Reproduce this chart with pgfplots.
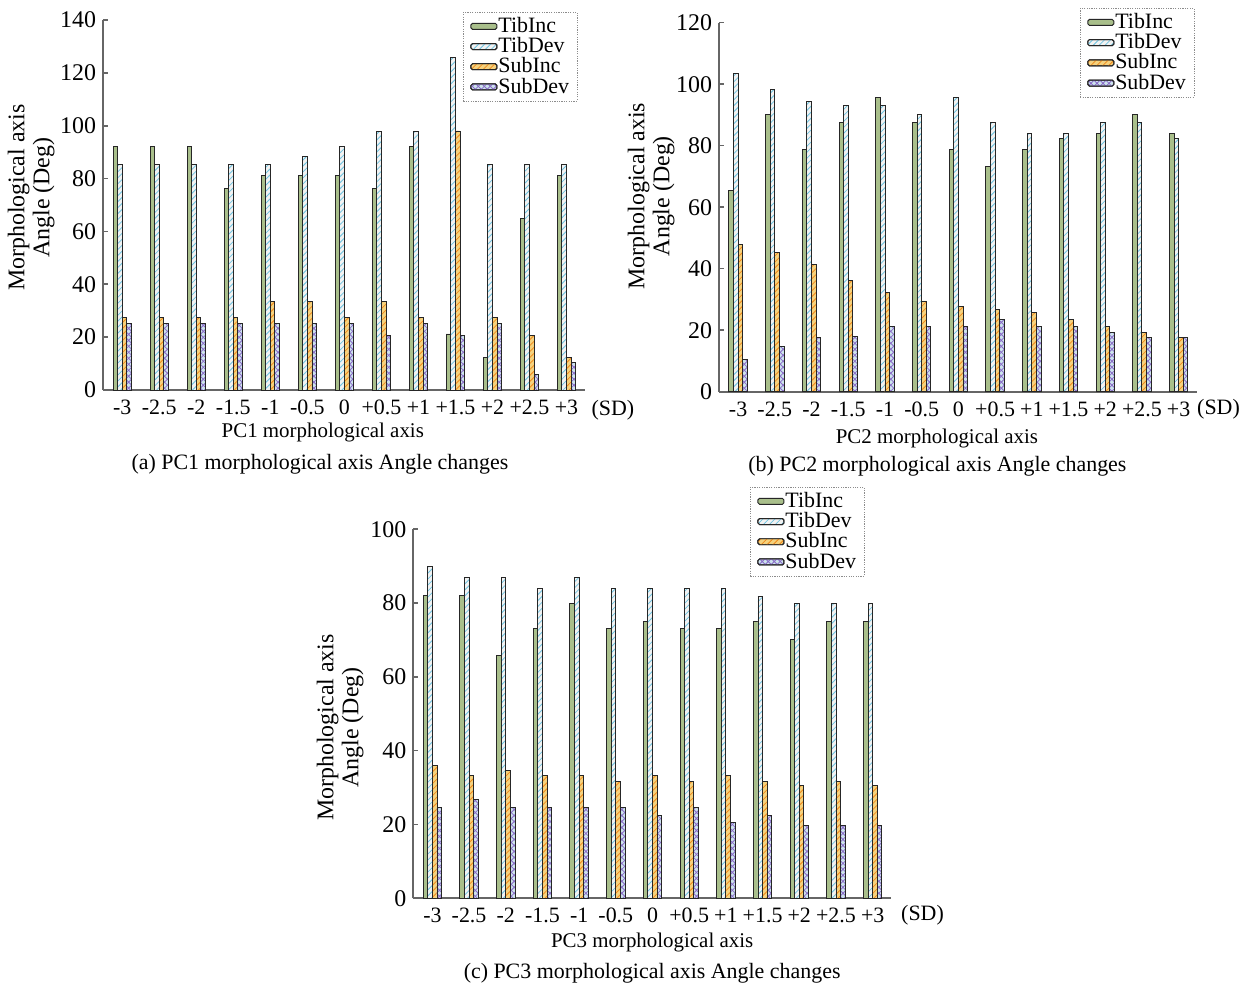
\documentclass[border=0pt]{standalone}
\usepackage{fontspec}
\setmainfont{Liberation Serif}
\usepackage{pgfplots}
\usepackage{pgfplotstable}
\pgfplotsset{compat=1.18}
\usetikzlibrary{patterns}

\definecolor{tibinc}{HTML}{A9BF8B}
\definecolor{tibdev}{HTML}{F2F2F2}
\definecolor{tibdevline}{HTML}{6FC3E0}
\definecolor{subinc}{HTML}{F5D27E}
\definecolor{subincline}{HTML}{F08A1C}
\definecolor{subdev}{HTML}{CDE3EC}
\definecolor{subdevline}{HTML}{8A6CC8}

% columns: cat TibInc TibDev SubInc SubDev
\pgfplotstableread{
cat TibInc TibDev SubInc SubDev
0  92.2  85.3  27.5 25.0
1  92.2  85.3  27.5 25.0
2  92.2  85.3  27.5 25.0
3  76.2  85.3  27.5 25.0
4  81.2  85.3  33.5 25.0
5  81.2  88.4  33.5 25.0
6  81.2  92.2  27.5 25.0
7  76.2  97.9  33.5 20.5
8  92.2  97.9  27.5 25.0
9  21.2 125.9  98.0 20.5
10 12.4  85.3  27.5 25.0
11 65.0  85.3  20.5  5.8
12 81.2  85.3  12.4 10.5
}\pcone

\pgfplotstableread{
cat TibInc TibDev SubInc SubDev
0  65.3 103.5 47.9 10.5
1  90.0  98.3 45.2 14.6
2  78.9  94.5 41.5 17.6
3  87.7  93.2 36.3 18.1
4  95.7  93.2 32.2 21.1
5  87.7  90.0 29.5 21.1
6  78.9  95.7 27.6 21.1
7  73.2  87.6 26.8 23.6
8  78.9  84.0 25.8 21.1
9  82.2  84.0 23.5 21.1
10 84.0  87.6 21.1 19.3
11 90.0  87.6 19.3 17.6
12 84.0  82.2 17.6 17.6
}\pctwo

\pgfplotstableread{
cat TibInc TibDev SubInc SubDev
0  82.0 90.0 36.0 24.7
1  82.0 87.0 33.2 26.9
2  65.9 87.0 34.6 24.7
3  73.2 84.0 33.2 24.7
4  79.9 87.0 33.2 24.7
5  73.2 84.0 31.6 24.7
6  75.0 84.0 33.2 22.4
7  73.2 84.0 31.6 24.7
8  73.2 84.0 33.2 20.6
9  75.0 81.9 31.6 22.4
10 70.2 79.9 30.7 19.7
11 75.0 79.9 31.6 19.7
12 75.0 79.9 30.7 19.7
}\pcthree

\pgfplotsset{
  panel/.style={
    scale only axis,
    clip=false,
    anchor=south west,
    ybar=0pt,
    bar width=2.3bp,
    axis lines*=left,
    axis line style={draw=black!60, line width=0.9pt},
    ymin=0,
    xmin=-0.52, xmax=12.5,
    xtick={0,...,12},
    xticklabels={-3,-2.5,-2,-1.5,-1,-0.5,0,+0.5,+1,+1.5,+2,+2.5,+3},
    x tick label style={font=\fontsize{11}{12}\selectfont, yshift=-1.5bp, inner xsep=0pt},
    y tick label style={font=\fontsize{12}{14}\selectfont},
    /pgf/number format/assume math mode=true,
    xtick style={draw=none},
    ytick style={draw=black!60, line width=0.8pt},
    tick align=inside,
    major tick length=2.5bp,
    ytick pos=left,
    xlabel style={font=\fontsize{10.5}{12}\selectfont, anchor=center},
    ylabel style={font=\fontsize{12}{12.5}\selectfont, align=center, anchor=center},
    legend style={
      draw=black!45, dash pattern=on 0.6pt off 0.6pt,
      fill=white,
      font=\fontsize{11}{11}\selectfont,
      inner xsep=3.5bp, inner ysep=2bp,
      row sep=0pt,
      nodes={inner sep=0.5bp},
      cells={anchor=west},
    },
    legend image code/.code={
      \draw[##1, solid, line width=0.5pt, rounded corners=0.8bp]
        (0bp,-1.5bp) rectangle (13bp,1.5bp);
    },
  },
  s1/.style={draw=black!85, line width=0.45pt, fill=tibinc},
  s2/.style={draw=black!85, line width=0.45pt, fill=tibdev,
    postaction={pattern=north east lines, pattern color=tibdevline}},
  s3/.style={draw=black!85, line width=0.45pt, fill=subinc,
    postaction={pattern=north east lines, pattern color=subincline}},
  s4/.style={draw=black!85, line width=0.45pt, fill=subdev,
    postaction={pattern=crosshatch, pattern color=subdevline}},
}

\newcommand{\fourbars}[1]{%
  \addplot[s1] table[x=cat, y=TibInc] {#1};
  \addplot[s2] table[x=cat, y=TibDev] {#1};
  \addplot[s3] table[x=cat, y=SubInc] {#1};
  \addplot[s4] table[x=cat, y=SubDev] {#1};
  \legend{TibInc, TibDev, SubInc, SubDev}%
}

\begin{document}
\begin{tikzpicture}
\path[use as bounding box] (0,0) rectangle (628bp,494.5bp);

% (a) PC1
\begin{axis}[panel,
  at={(51.5bp,299.5bp)}, width=241bp, height=185bp,
  ymax=140, ytick={0,20,...,140},
  xlabel={PC1 morphological axis},
  xlabel style={at={(axis description cs:0.456,-0.115)}},
  ylabel={Morphological axis\\Angle (Deg)},
  ylabel style={at={(axis description cs:-0.149,0.52)}},
  legend style={at={(0.747,1.022)}, anchor=north west},
]
\fourbars{\pcone}
\node[font=\fontsize{11}{12}\selectfont] at (axis description cs:1.058,-0.055) {(SD)};
\node[font=\fontsize{11}{12}\selectfont] at (axis description cs:0.45,-0.2) {(a) PC1 morphological axis Angle changes};
\end{axis}

% (b) PC2
\begin{axis}[panel,
  at={(359.5bp,298.65bp)}, width=239bp, height=184.5bp,
  ymax=120, ytick={0,20,...,120},
  xlabel={PC2 morphological axis},
  xlabel style={at={(axis description cs:0.456,-0.127)}},
  ylabel={Morphological axis\\Angle (Deg)},
  ylabel style={at={(axis description cs:-0.142,0.53)}},
  legend style={at={(0.755,1.04)}, anchor=north west},
]
\fourbars{\pctwo}
\node[font=\fontsize{11}{12}\selectfont] at (axis description cs:1.045,-0.048) {(SD)};
\node[font=\fontsize{11}{12}\selectfont] at (axis description cs:0.457,-0.202) {(b) PC2 morphological axis Angle changes};
\end{axis}

% (c) PC3
\begin{axis}[panel,
  at={(206.65bp,45.35bp)}, width=238.85bp, height=184.5bp,
  ymax=100, ytick={0,20,...,100},
  xlabel={PC3 morphological axis},
  xlabel style={at={(axis description cs:0.5,-0.121)}},
  ylabel={Morphological axis\\Angle (Deg)},
  ylabel style={at={(axis description cs:-0.153,0.463)}},
  legend style={at={(0.705,1.115)}, anchor=north west},
]
\fourbars{\pcthree}
\node[font=\fontsize{11}{12}\selectfont] at (axis description cs:1.066,-0.045) {(SD)};
\node[font=\fontsize{11}{12}\selectfont] at (axis description cs:0.5,-0.202) {(c) PC3 morphological axis Angle changes};
\end{axis}
\end{tikzpicture}
\end{document}
